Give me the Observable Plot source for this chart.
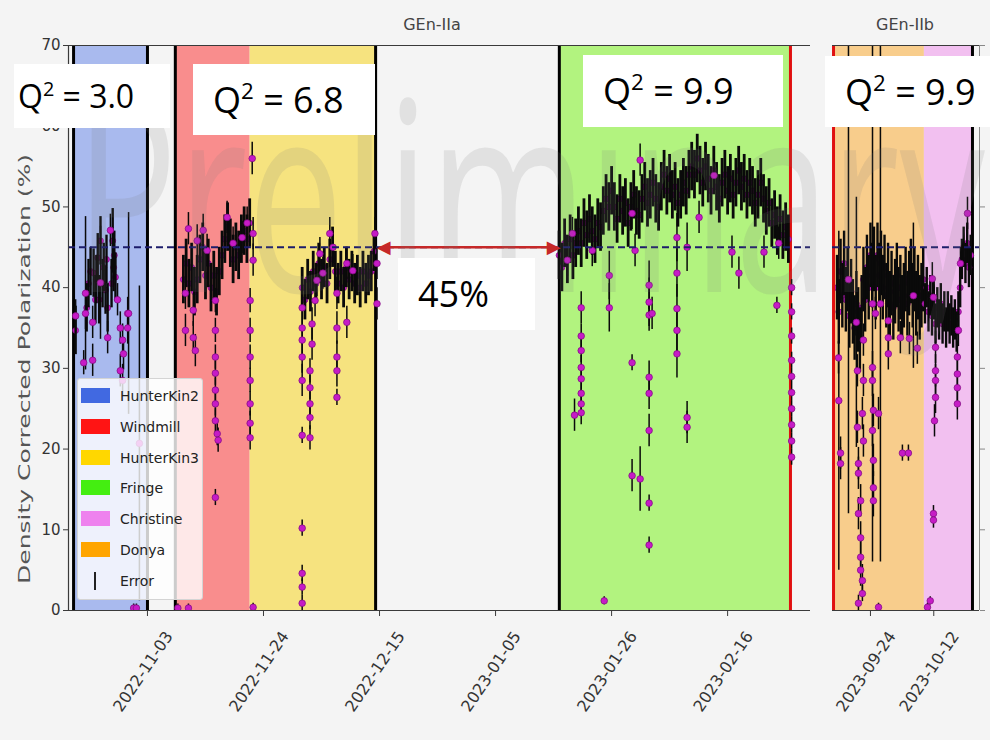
<!DOCTYPE html>
<html><head><meta charset="utf-8">
<script src="https://cdn.jsdelivr.net/npm/d3@7"></script>
<script src="https://cdn.jsdelivr.net/npm/@observablehq/plot@0.6"></script>
<style>
body{margin:0;background:#f4f4f4;}
#wrap{position:relative;width:990px;height:740px;overflow:hidden;background:#f4f4f4;font-family:"DejaVu Sans",sans-serif;}
#wrap > svg, #wrap > div{position:absolute;}
.qbox{position:absolute;background:#fff;font-family:"Open Sans",sans-serif;color:#000;white-space:nowrap;box-sizing:border-box;}
.qbox sup{font-size:0.62em;vertical-align:0.62em;line-height:0;}
#legend{background:rgba(255,255,255,0.8);border:1px solid #d4d4d4;border-radius:3px;box-sizing:border-box;}
.lrow{position:absolute;left:0;height:20px;}
.lsw{position:absolute;left:3px;top:2px;width:29px;height:15px;}
.ltx{position:absolute;left:42px;top:0;font-size:14px;line-height:20px;color:#222;font-family:"DejaVu Sans",sans-serif;}
</style></head><body><div id="wrap"></div>
<script>
// ---------------- data ----------------
const iiaDomain = ["2022-10-19 17", "2023-03-03 00"];
const iibDomain = ["2023-09-13 05", "2023-10-25 00"];
const yTicks = [0, 10, 20, 30, 40, 50, 60, 70];
const iiaTickLabels = ["2022-11-03", "2022-11-24", "2022-12-15", "2023-01-05", "2023-01-26", "2023-02-16"];
const iibTickLabels = ["2023-09-24", "2023-10-12"];
const targetPol = 45;

const iiaBandNames = ["HunterKin2", "Windmill", "HunterKin3", "Fringe"];
const iiaBandStart = ["2022-10-20 15", "2022-11-08 01", "2022-11-21 14", "2023-01-16 13"];
const iiaBandEnd = ["2022-11-03 00", "2022-11-21 14", "2022-12-14 07", "2023-02-27 09"];
const iibBandNames = ["Donya", "Christine"];
const iibBandStart = ["2023-09-13 12", "2023-10-09 08"];
const iibBandEnd = ["2023-10-09 08", "2023-10-23 00"];
const iiaBlackLines = ["2022-10-20 15", "2022-11-03 00", "2022-11-08 01", "2022-12-14 07", "2023-01-16 13"];
const iiaRedLines = ["2023-02-27 09"];
const iibRedLines = ["2023-09-13 12"];
const iibBlackLines = ["2023-10-23 00"];
const gapArrow = {left: "2022-12-15 01", right: "2023-01-16 05"};

const legendNames = ["HunterKin2", "Windmill", "HunterKin3", "Fringe", "Christine", "Donya", "Error"];
const qLabels = ["3.0", "6.8", "9.9", "9.9"];
const gapLabel = "45%";
const panelTitles = ["GEn-IIa", "GEn-IIb"];
const yLabel = "Density Corrected Polarization (%)";
const watermark = "Preliminary";

// [time, polarization %, error]
const hk2Dense = [
["2022-10-21 00",34.7,3],["2022-10-23 00",37.5,3],["2022-10-23 08",40.5,3],["2022-10-23 17",42,3],["2022-10-24 06",41.8,3],["2022-10-24 14",38.5,3],["2022-10-24 18",41,3],["2022-10-25 00",43.7,3],["2022-10-25 06",38.5,3],["2022-10-25 12",45.8,3],["2022-10-25 21",40.5,3],["2022-10-26 02",42.5,3],["2022-10-26 10",39.7,3],["2022-10-26 14",43.5,3],["2022-10-26 19",37.5,3],["2022-10-27 12",40.5,3],["2022-10-27 17",45.8,4],["2022-10-27 21",42.5,3],["2022-10-28 00",44,3],["2022-10-28 05",41.3,3]
];
const hk2Outliers = [
["2022-10-21 00",36.5,2],["2022-10-22 11",30.7,1.5],["2022-10-22 19",39.3,9.5],["2022-10-22 19",36.8,2],["2022-10-24 02",35.7,2],["2022-10-24 02",31,2],["2022-10-25 12",40.6,7],["2022-10-26 19",33.8,2],["2022-10-27 07",47.1,2],["2022-10-28 14",38.5,2],["2022-10-29 02",35,2],["2022-10-29 02",29.7,2],["2022-10-29 12",33.5,2],["2022-10-29 12",28.5,2],["2022-10-29 16",31.8,2],["2022-10-30 10",36.8,2],["2022-10-30 10",35,2],["2022-10-30 14",36.8,12.5],["2022-10-31 12",0.3,0.5],["2022-11-01 00",0.3,0.5],["2022-11-01 13",20.7,19.5]
];
const windmillDense = [
["2022-11-09 12",41,3],["2022-11-10 00",43,3],["2022-11-10 12",40.5,3],["2022-11-11 00",42.5,3],["2022-11-11 12",39.5,3],["2022-11-12 00",41,3],["2022-11-12 12",43.5,3],["2022-11-13 00",45,3],["2022-11-13 12",41.5,3],["2022-11-14 00",43,3],["2022-11-14 12",40,3],["2022-11-15 00",41.5,3],["2022-11-15 12",39.5,3],["2022-11-16 00",42,3],["2022-11-16 12",44,3],["2022-11-17 00",46,3],["2022-11-17 12",47.5,3],["2022-11-18 00",45.5,3],["2022-11-18 12",43.5,3],["2022-11-19 00",45,3],["2022-11-19 12",44,3],["2022-11-20 00",46,3],["2022-11-20 12",47,3],["2022-11-21 00",46,3],["2022-11-21 12",48,3]
];
const windmillOutliers = [
["2022-11-08 12",0.3,0.5],["2022-11-09 21",39.3,2],["2022-11-09 21",34.7,2],["2022-11-10 10",47.3,2],["2022-11-10 10",0.3,0.5],["2022-11-11 07",37.2,2],["2022-11-11 07",33.8,2],["2022-11-11 16",32.2,2],["2022-11-12 00",45.8,2],["2022-11-13 02",47.1,2],["2022-11-13 19",44.6,2],["2022-11-15 07",38.4,1.5],["2022-11-15 07",34.7,1.5],["2022-11-15 07",31.4,1.5],["2022-11-15 07",29.4,1.5],["2022-11-15 07",27.3,1.5],["2022-11-15 07",25.6,1.5],["2022-11-15 07",23.5,1.5],["2022-11-15 07",14,1],["2022-11-15 15",21.9,1.5],["2022-11-15 19",21.1,1.5],["2022-11-17 10",48.7,2],["2022-11-18 12",45.5,2],["2022-11-20 03",46.2,2],["2022-11-21 01",48,2],["2022-11-21 14",38.4,1.5],["2022-11-21 14",34.7,1.5],["2022-11-21 14",31.4,1.5],["2022-11-21 14",28.5,1.5],["2022-11-21 14",25.6,1.5],["2022-11-21 14",23.2,1.5],["2022-11-21 14",21.4,1.5]
];
const hk3Dense = [
["2022-12-01 00",40,2.5],["2022-12-01 12",38.5,2.5],["2022-12-02 00",41,2.5],["2022-12-02 12",39.5,2.5],["2022-12-03 00",42,2.5],["2022-12-03 12",40.5,2.5],["2022-12-04 00",43,2.5],["2022-12-04 12",41,2.5],["2022-12-05 00",42.5,2.5],["2022-12-05 12",40.5,2.5],["2022-12-06 00",43.5,2.5],["2022-12-06 12",45,2.5],["2022-12-07 00",42,2.5],["2022-12-07 12",40.5,2.5],["2022-12-08 00",42,2.5],["2022-12-08 12",40,2.5],["2022-12-09 00",42.5,2.5],["2022-12-09 12",41,2.5],["2022-12-10 00",42,2.5],["2022-12-10 12",40.5,2.5],["2022-12-11 00",41.5,2.5],["2022-12-11 12",40,2.5],["2022-12-12 00",42,2.5],["2022-12-12 12",40.5,2.5],["2022-12-13 00",41.5,2.5],["2022-12-13 12",42,2.5],["2022-12-14 00",44.5,2.5]
];
const hk3Outliers = [
["2022-11-21 23",56,2],["2022-11-22 03",46.7,2],["2022-11-22 03",43.4,2],["2022-11-22 03",0.4,0.5],["2022-12-01 00",37.5,2],["2022-12-01 00",35,2],["2022-12-01 00",33.5,2],["2022-12-01 00",31.4,2],["2022-12-01 00",28.5,2],["2022-12-01 00",21.7,1],["2022-12-01 00",10.2,1],["2022-12-01 00",4.6,1],["2022-12-01 00",2.9,1],["2022-12-01 00",0.9,1],["2022-12-02 10",21.4,1.5],["2022-12-02 10",23.9,1.5],["2022-12-02 10",25.6,1.5],["2022-12-02 10",27.6,1.5],["2022-12-02 10",29.7,1.5],["2022-12-02 19",33,2],["2022-12-02 19",35.5,2],["2022-12-03 08",38.4,2],["2022-12-03 16",40.9,2],["2022-12-04 05",44.2,2],["2022-12-04 18",41.8,2],["2022-12-06 00",46.7,2],["2022-12-06 14",45,2],["2022-12-07 07",39.3,2],["2022-12-07 07",35,2],["2022-12-07 07",31.4,2],["2022-12-07 07",29.7,2],["2022-12-07 07",26.4,1],["2022-12-09 02",35.7,2],["2022-12-09 02",43,2],["2022-12-10 04",42.1,2],["2022-12-14 04",46.7,2],["2022-12-14 13",43,2],["2022-12-14 13",38,2]
];
const fringeDense = [
["2023-01-16 12",44,3],["2023-01-17 00",42.5,3],["2023-01-17 12",45.5,3],["2023-01-18 00",43.5,3],["2023-01-18 12",46,3],["2023-01-19 00",44,3],["2023-01-19 12",45.5,3],["2023-01-20 00",47,3],["2023-01-20 12",45.5,3],["2023-01-21 00",48,3],["2023-01-21 12",46.5,3],["2023-01-22 00",48.5,3],["2023-01-22 12",47,3],["2023-01-23 00",46,3],["2023-01-23 12",48,3],["2023-01-24 00",47.5,3],["2023-01-24 12",49.5,3],["2023-01-25 00",51,3],["2023-01-25 12",50,3],["2023-01-26 00",52,3],["2023-01-26 12",50,3],["2023-01-27 00",48.5,3],["2023-01-27 12",51,3],["2023-01-28 00",49.5,3],["2023-01-28 12",50.5,3],["2023-01-29 00",48,3],["2023-01-29 12",50,3],["2023-01-30 00",51.5,3],["2023-01-30 12",49.5,3],["2023-01-31 00",49,3],["2023-01-31 12",51,3],["2023-02-01 00",52.5,3],["2023-02-01 12",50.5,3],["2023-02-02 00",51.5,3],["2023-02-02 12",53,3],["2023-02-03 00",51,3],["2023-02-03 12",50,3],["2023-02-04 00",52.5,3],["2023-02-04 12",54,3],["2023-02-05 00",52,3],["2023-02-05 12",53.5,3],["2023-02-06 00",51.5,3],["2023-02-06 12",52.5,3],["2023-02-07 00",50.5,3],["2023-02-07 12",51.5,3],["2023-02-08 00",53,3],["2023-02-08 12",52,3],["2023-02-09 00",54,3],["2023-02-09 12",55,3],["2023-02-10 00",54,3],["2023-02-10 12",56,3],["2023-02-11 00",54.5,3],["2023-02-11 12",53,3],["2023-02-12 00",55,3],["2023-02-12 12",53.5,3],["2023-02-13 00",52,3],["2023-02-13 12",54.5,3],["2023-02-14 00",52.5,3],["2023-02-14 12",51,3],["2023-02-15 00",53,3],["2023-02-15 12",54,3],["2023-02-16 00",52,3],["2023-02-16 12",53.5,3],["2023-02-17 00",51.5,3],["2023-02-17 12",53,3],["2023-02-18 00",54.5,3],["2023-02-18 12",52.5,3],["2023-02-19 00",53.5,3],["2023-02-19 12",51.5,3],["2023-02-20 00",53,3],["2023-02-20 12",52,3],["2023-02-21 00",50.5,3],["2023-02-21 12",51.5,3],["2023-02-22 00",53,3],["2023-02-22 12",51,3],["2023-02-23 00",49.5,3],["2023-02-23 12",50.5,3],["2023-02-24 00",48,3],["2023-02-24 12",49,3],["2023-02-25 00",47,3],["2023-02-25 12",48.5,3],["2023-02-26 00",46.5,3],["2023-02-26 12",47.5,3],["2023-02-27 00",46,3]
];
const fringeOutliers = [
["2023-01-18 22",46.7,2],["2023-01-18 00",43.4,2],["2023-01-19 07",24.2,2],["2023-01-20 12",37.5,2],["2023-01-20 12",34,1.5],["2023-01-20 12",32.2,1.5],["2023-01-20 12",30.1,1.5],["2023-01-20 12",28.7,1.5],["2023-01-20 12",26.9,1.5],["2023-01-20 12",25.6,1.5],["2023-01-20 12",24.5,1.5],["2023-01-22 12",44.6,2],["2023-01-24 16",1.2,0.5],["2023-01-25 14",41.5,3],["2023-01-25 14",37.5,3],["2023-01-29 17",49.2,2],["2023-01-29 17",30.7,1],["2023-01-29 17",16.7,2],["2023-01-30 06",44.6,2],["2023-01-31 04",55.8,2],["2023-01-31 04",16.3,4],["2023-02-01 19",40.3,3],["2023-02-01 19",38.2,3],["2023-02-01 19",36.6,2],["2023-02-01 19",28.9,2],["2023-02-01 19",26.9,2],["2023-02-01 19",22.3,2],["2023-02-01 19",13.3,1],["2023-02-01 19",8.1,1],["2023-02-02 08",36.8,2],["2023-02-06 20",46.2,3],["2023-02-06 20",41.8,3],["2023-02-06 20",37.4,3],["2023-02-06 20",34.7,3],["2023-02-06 20",31.8,3],["2023-02-08 16",45,3],["2023-02-08 16",23.9,2],["2023-02-08 16",22.7,2],["2023-02-10 20",48.7,2],["2023-02-13 13",53.9,2],["2023-02-16 19",44.4,2],["2023-02-18 01",41.8,2],["2023-02-22 14",44.4,2],["2023-02-24 22",37.8,1],["2023-02-25 06",45.5,2],["2023-02-27 14",40,1],["2023-02-27 14",37,1],["2023-02-27 14",34,1],["2023-02-27 14",31,1],["2023-02-27 14",29,1],["2023-02-27 14",27,1],["2023-02-27 14",25,1],["2023-02-27 14",23,1],["2023-02-27 14",21,1],["2023-02-27 14",19,1]
];
const donyaDense = [
["2023-09-14 12",40,4],["2023-09-15 00",37,4],["2023-09-15 12",42,4],["2023-09-16 00",39,4],["2023-09-16 12",43,4],["2023-09-17 00",38.5,4],["2023-09-17 12",41,4],["2023-09-18 00",36.5,4],["2023-09-18 12",39.5,4],["2023-09-19 00",37,4],["2023-09-19 12",35,4],["2023-09-20 00",38,4],["2023-09-20 12",36,4],["2023-09-21 00",33.5,4],["2023-09-21 12",37.5,4],["2023-09-22 00",41,4],["2023-09-22 12",38.5,4],["2023-09-23 00",42.5,4],["2023-09-23 12",40,4],["2023-09-24 00",44,4],["2023-09-24 12",41.5,4],["2023-09-25 00",43.5,4],["2023-09-25 12",40,4],["2023-09-26 00",44,4],["2023-09-26 12",41.5,4],["2023-09-27 00",43,4],["2023-09-27 12",40,4],["2023-09-28 00",42.5,4],["2023-09-28 12",39,4],["2023-09-29 00",41.5,4],["2023-09-29 12",38,4],["2023-09-30 00",40.5,4],["2023-09-30 12",37.5,4],["2023-10-01 00",39.5,4],["2023-10-01 12",41.5,4],["2023-10-02 00",38.5,4],["2023-10-02 12",40,4],["2023-10-03 00",37.5,4],["2023-10-03 12",39,4],["2023-10-04 00",41,4],["2023-10-04 12",38,4],["2023-10-05 00",40.5,4],["2023-10-05 12",42,4],["2023-10-06 00",39,4],["2023-10-06 12",41,4],["2023-10-07 00",38,4],["2023-10-07 12",40,4],["2023-10-08 00",37.5,4],["2023-10-08 12",39,4],["2023-10-09 00",41,4]
];
const donyaOutliers = [
["2023-09-14 22",31.3,2],["2023-09-15 00",26,21],["2023-09-15 12",19.5,2],["2023-09-15 12",18.2,2],["2023-09-17 18",41,29],["2023-09-20 00",35.7,15.5],["2023-09-20 07",29.7,2],["2023-09-20 07",22.7,2],["2023-09-20 14",18.2,2],["2023-09-20 14",17,2],["2023-09-20 14",12,2],["2023-09-20 14",0.9,1],["2023-09-21 05",13.6,2],["2023-09-21 05",9,2],["2023-09-21 05",6.6,2],["2023-09-21 05",5,2],["2023-09-21 17",24.4,2],["2023-09-21 17",3.7,2],["2023-09-21 17",2.1,1],["2023-09-22 00",33.5,2],["2023-09-22 00",28.5,2],["2023-09-22 00",21,2],["2023-09-24 14",38,32],["2023-09-24 14",30.1,2],["2023-09-24 14",28.5,2],["2023-09-24 14",22.3,2],["2023-09-24 20",24.8,2],["2023-09-24 20",18.6,2],["2023-09-24 20",15.2,2],["2023-09-24 20",13.6,2],["2023-09-25 10",36.8,2],["2023-09-26 07",24.4,2],["2023-09-26 07",0.4,0.5],["2023-09-26 20",38,32],["2023-10-06 05",39,9],["2023-09-29 02",35.9,2],["2023-09-29 02",33.8,2],["2023-09-29 02",31.8,2],["2023-10-02 12",33.8,2],["2023-10-03 02",19.5,1],["2023-10-04 19",19.5,1],["2023-10-05 02",33.7,2],["2023-10-07 08",32.5,2]
];
const christineDense = [
["2023-10-09 12",38,2.5],["2023-10-10 00",40,2.5],["2023-10-10 12",37,2.5],["2023-10-11 00",39,2.5],["2023-10-11 12",36.5,2.5],["2023-10-12 00",38.5,2.5],["2023-10-12 12",35.5,2.5],["2023-10-13 00",37.5,2.5],["2023-10-13 12",36,2.5],["2023-10-14 00",38,2.5],["2023-10-14 12",35.5,2.5],["2023-10-15 00",37,2.5],["2023-10-15 12",35,2.5],["2023-10-16 00",37,2.5],["2023-10-16 12",35.5,2.5],["2023-10-17 00",36.5,2.5],["2023-10-17 12",35,2.5],["2023-10-18 00",36,2.5],["2023-10-18 12",34.5,2.5],["2023-10-19 00",37,2.5],["2023-10-19 12",40,2.5],["2023-10-20 00",43.5,2.5],["2023-10-20 12",45,2.5],["2023-10-21 00",43,2.5],["2023-10-21 12",45.5,2.5],["2023-10-22 00",42.5,2.5],["2023-10-22 12",44,2.5]
];
const christineOutliers = [
["2023-10-10 05",0.4,0.5],["2023-10-11 00",1.2,0.5],["2023-10-11 14",41.1,2],["2023-10-11 22",38.8,2],["2023-10-11 22",12,1],["2023-10-11 22",11.2,1],["2023-10-12 05",23.5,2],["2023-10-12 12",32.6,2],["2023-10-12 12",29.7,2],["2023-10-12 12",28.5,2],["2023-10-12 12",26.4,2],["2023-10-18 17",31.4,2],["2023-10-18 17",29.3,2],["2023-10-18 17",27.6,2],["2023-10-18 17",25.6,2],["2023-10-19 00",34.7,2],["2023-10-19 14",43,2],["2023-10-21 14",49.2,2]
];

// ---------------- styles ----------------
const bandFill = {HunterKin2:"#a9baee", Windmill:"#f98d8d", HunterKin3:"#f6e37f", Fringe:"#b2f37f", Christine:"#f2c0f0", Donya:"#f8cd8c"};
const legendSwatch = {HunterKin2:"#4169e1", Windmill:"#ff1414", HunterKin3:"#ffd700", Fringe:"#44ee11", Christine:"#ee82ee", Donya:"#ffa500"};
const MAG = "#c61bc6", MAGE = "#7d0a7d", ERR = "#0a0a0a", SPINE = "#3a3a3a";

const parseT = d3.utcParse("%Y-%m-%d %H");
const parseD = d3.utcParse("%Y-%m-%d");
const rows = a => a.map(([t, v, e]) => ({t: parseT(t), v, e}));
const bands = (names, s, e) => names.map((n, i) => ({name: n, x1: parseT(s[i]), x2: parseT(e[i])}));

function pointMarks(dense, outl, denseWidth) {
  const D = rows(dense), O = rows(outl);
  const eb = {x: "t", y1: d => d.v - d.e, y2: d => d.v + d.e, stroke: ERR, clip: true};
  const dt = {x: "t", y: "v", r: 3.3, fill: MAG, stroke: MAGE, strokeWidth: 0.7, clip: true};
  return [
    Plot.dot(D, {...dt, r: 3}),
    Plot.ruleX(D, {...eb, strokeWidth: denseWidth}),
    Plot.ruleX(O, {...eb, strokeWidth: 1.5}),
    Plot.dot(O, dt)
  ];
}

const style = {background: "transparent", fontFamily: "DejaVu Sans, sans-serif", fontSize: "15px", color: "#333", overflow: "visible"};
const wrap = document.getElementById("wrap");

// ---------------- GEn-IIa panel ----------------
const left = Plot.plot({
  width: 820, height: 740, marginLeft: 68, marginRight: 10, marginTop: 45, marginBottom: 130,
  x: {type: "utc", domain: iiaDomain.map(parseT), axis: null},
  y: {domain: [0, 70], axis: null},
  style,
  marks: [
    Plot.rect(bands(iiaBandNames, iiaBandStart, iiaBandEnd), {x1: "x1", x2: "x2", fill: d => bandFill[d.name]}),
    Plot.ruleX(iiaBlackLines.map(parseT), {stroke: "#000", strokeWidth: 3}),
    Plot.ruleX(iiaRedLines.map(parseT), {stroke: "#e01010", strokeWidth: 3}),
    ...pointMarks(hk2Dense, hk2Outliers, 2.4),
    ...pointMarks(windmillDense, windmillOutliers, 2.8),
    ...pointMarks(hk3Dense, hk3Outliers, 2.8),
    ...pointMarks(fringeDense, fringeOutliers, 2.8),
    Plot.ruleY([targetPol], {stroke: "#1c1c6b", strokeWidth: 2, strokeDasharray: "7,4"}),
    Plot.ruleY([0, 70], {stroke: SPINE, strokeWidth: 1.2}),
    Plot.ruleX([parseT(iiaDomain[0])], {stroke: SPINE, strokeWidth: 1.2}),
    Plot.axisY(yTicks, {label: null, tickSize: 5, tickPadding: 3, fontSize: 15, stroke: SPINE, fill: "#333"}),
    Plot.axisX(iiaTickLabels.map(parseD), {label: null, tickSize: 6, tickFormat: () => "", stroke: SPINE}),
    Plot.text(iiaTickLabels, {x: d => parseD(d), text: d => d, frameAnchor: "bottom", rotate: -56, dy: 64, textAnchor: "middle", fontSize: 16, fill: "#333"}),
    Plot.link([gapArrow], {x1: d => parseT(d.left), x2: d => parseT(d.right), y1: targetPol, y2: targetPol, stroke: "#c62828", strokeWidth: 2.5}),
    Plot.text([gapArrow], {x: d => parseT(d.left), y: targetPol, text: () => "◀", textAnchor: "start", fontSize: 18, fill: "#c62828", dx: -3}),
    Plot.text([gapArrow], {x: d => parseT(d.right), y: targetPol, text: () => "▶", textAnchor: "end", fontSize: 18, fill: "#c62828", dx: 3})
  ]
});
left.style.left = "0px"; left.style.top = "0px";
wrap.appendChild(left);

// ---------------- GEn-IIb panel ----------------
const right = Plot.plot({
  width: 170, height: 740, marginLeft: 12, marginRight: 11, marginTop: 45, marginBottom: 130,
  x: {type: "utc", domain: iibDomain.map(parseT), axis: null},
  y: {domain: [0, 70], axis: null},
  style,
  marks: [
    Plot.rect(bands(iibBandNames, iibBandStart, iibBandEnd), {x1: "x1", x2: "x2", fill: d => bandFill[d.name]}),
    Plot.ruleX(iibBlackLines.map(parseT), {stroke: "#000", strokeWidth: 3}),
    ...pointMarks(donyaDense, donyaOutliers, 2.4),
    ...pointMarks(christineDense, christineOutliers, 2.4),
    Plot.ruleX(iibRedLines.map(parseT), {stroke: "#e01010", strokeWidth: 3}),
    Plot.ruleY([targetPol], {stroke: "#1c1c6b", strokeWidth: 2, strokeDasharray: "7,4"}),
    Plot.ruleY([0, 70], {stroke: SPINE, strokeWidth: 1.2}),
    Plot.ruleX([parseT(iibDomain[1])], {stroke: "#888", strokeWidth: 1}),
    Plot.axisY(yTicks, {label: null, anchor: "right", tickSize: 5, tickFormat: () => "", stroke: "#888"}),
    Plot.axisX(iibTickLabels.map(parseD), {label: null, tickSize: 6, tickFormat: () => "", stroke: SPINE}),
    Plot.text(iibTickLabels, {x: d => parseD(d), text: d => d, frameAnchor: "bottom", rotate: -56, dy: 64, textAnchor: "middle", fontSize: 16, fill: "#333"})
  ]
});
right.style.left = "820px"; right.style.top = "0px";
wrap.appendChild(right);

// ---------------- overlay texts ----------------
const NS = "http://www.w3.org/2000/svg";
const ov = document.createElementNS(NS, "svg");
ov.setAttribute("width", 990); ov.setAttribute("height", 740);
ov.style.left = "0px"; ov.style.top = "0px"; ov.style.pointerEvents = "none";
function svgText(txt, attrs) {
  const t = document.createElementNS(NS, "text");
  for (const k in attrs) t.setAttribute(k, attrs[k]);
  t.textContent = txt; ov.appendChild(t); return t;
}
svgText(watermark, {x: 75, y: 292, "font-size": 265, "font-family": "Open Sans, sans-serif", fill: "#7a7a7a", "fill-opacity": 0.15, textLength: 910, lengthAdjust: "spacingAndGlyphs"});
svgText(panelTitles[0], {x: 432, y: 30, "font-size": 16, "font-family": "DejaVu Sans, sans-serif", fill: "#444", "text-anchor": "middle"});
svgText(panelTitles[1], {x: 905, y: 30, "font-size": 16, "font-family": "DejaVu Sans, sans-serif", fill: "#444", "text-anchor": "middle"});
svgText(yLabel, {transform: "translate(30,369) rotate(-90)", "font-size": 16, "font-family": "DejaVu Sans, sans-serif", fill: "#555", "text-anchor": "middle", textLength: 430, lengthAdjust: "spacingAndGlyphs"});
wrap.appendChild(ov);

// ---------------- legend ----------------
const lg = document.createElement("div");
lg.id = "legend";
Object.assign(lg.style, {left: "77px", top: "378px", width: "126px", height: "222px"});
legendNames.forEach((n, i) => {
  const r = document.createElement("div");
  r.className = "lrow"; r.style.top = (7 + i * 30.8) + "px"; r.style.width = "124px";
  const sw = document.createElement("div");
  sw.className = "lsw";
  if (n === "Error") { Object.assign(sw.style, {left: "16px", width: "2px", top: "1px", height: "18px", background: "#222"}); }
  else sw.style.background = legendSwatch[n];
  const tx = document.createElement("div");
  tx.className = "ltx"; tx.textContent = n;
  r.appendChild(sw); r.appendChild(tx); lg.appendChild(r);
});
wrap.appendChild(lg);

// ---------------- annotation boxes ----------------
const boxes = [
  {l: 14, t: 64, w: 156, h: 64, fs: 32, pad: 4, html: "Q<sup>2</sup> = " + qLabels[0]},
  {l: 193, t: 64, w: 182, h: 71, fs: 36, pad: 20, html: "Q<sup>2</sup> = " + qLabels[1]},
  {l: 583, t: 55, w: 200, h: 72, fs: 36, pad: 20, html: "Q<sup>2</sup> = " + qLabels[2]},
  {l: 825, t: 56, w: 170, h: 71, fs: 36, pad: 20, html: "Q<sup>2</sup> = " + qLabels[3]},
  {l: 398, t: 258, w: 137, h: 72, fs: 36, pad: 20, html: gapLabel}
];
boxes.forEach(b => {
  const d = document.createElement("div");
  d.className = "qbox";
  Object.assign(d.style, {left: b.l + "px", top: b.t + "px", width: b.w + "px", height: b.h + "px",
    fontSize: b.fs + "px", lineHeight: b.h + "px", paddingLeft: b.pad + "px"});
  d.innerHTML = b.html;
  wrap.appendChild(d);
});
</script></body></html>
